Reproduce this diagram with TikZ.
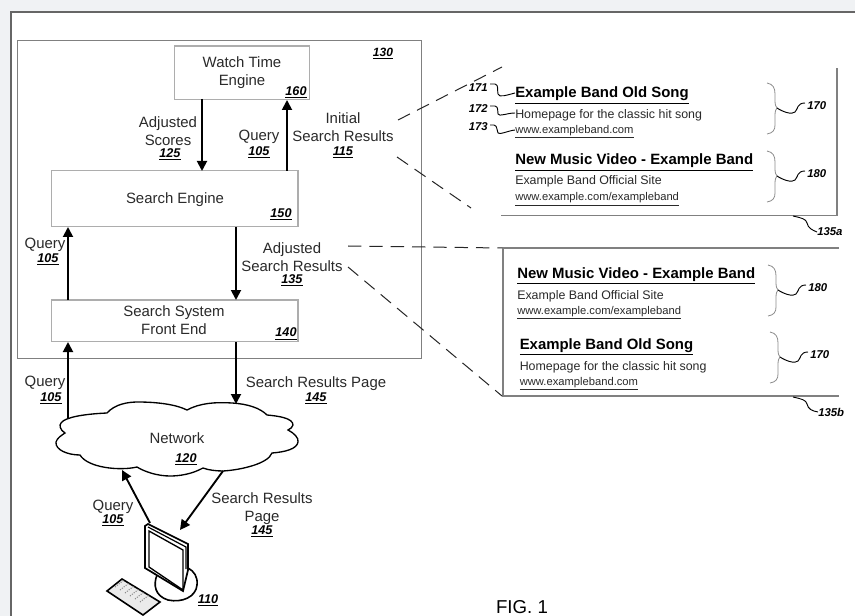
\documentclass[tikz,border=0pt]{standalone}
\usepackage{fontspec}
\setmainfont{Liberation Sans}
\usetikzlibrary{arrows.meta}
\definecolor{bgc}{HTML}{F0F2F4}
\definecolor{ink}{HTML}{2A2A2A}
\newcommand{\rf}[1]{\underline{\textbf{\textit{#1}}}}
% tip x, tip y, label
\newcommand{\bracemark}[3]{%
 \draw[bracecurve] (#1-10,#2-25) .. controls (#1-4,#2-24) and (#1-2,#2-20) .. (#1-2,#2-14) -- (#1-2,#2-7) .. controls (#1-2,#2-3) and (#1-1,#2-1) .. (#1,#2) .. controls (#1-1,#2+1) and (#1-2,#2+3) .. (#1-2,#2+7) -- (#1-2,#2+17) .. controls (#1-2,#2+22) and (#1-4,#2+25) .. (#1-10,#2+26);
 \draw[squig] (#1,#2) .. controls (#1+6,#2+4) and (#1+15,#2+7) .. (#1+18,#2+4) .. controls (#1+21,#2+1) and (#1+20,#2-5) .. (#1+28,#2-5);
 \node[refsm,anchor=west] at (#1+30,#2-2) {\textbf{\textit{#3}}};}
\tikzset{
  lbl/.style={font=\fontsize{11.2}{13.4}\selectfont,text=ink,align=center,inner sep=0pt},
  num/.style={font=\fontsize{9.5}{11}\selectfont,text=black,inner sep=0pt,yshift=-1.1pt},
  refsm/.style={font=\fontsize{8.5}{10}\selectfont,text=black,inner sep=0pt},
  enginebox/.style={draw=black!32,line width=0.9pt,fill=white},
  flow/.style={draw=black,line width=1.4pt,-{Triangle[length=7.5pt,width=7.5pt]}},
  dashlead/.style={draw=black!85,line width=0.75pt,dash pattern=on 10pt off 6pt},
  resbox/.style={draw=black!50,line width=0.8pt},
  restitle/.style={font=\fontsize{11.2}{13}\bfseries\selectfont,text=black,inner sep=0pt,anchor=base west},
  resbody/.style={font=\fontsize{9.3}{11}\selectfont,text=ink,inner sep=0pt,anchor=base west},
  resurl/.style={font=\fontsize{8.4}{10}\selectfont,text=ink,inner sep=0pt,anchor=base west},
  bracecurve/.style={draw=black!45,line width=0.6pt},
  squig/.style={draw=black,line width=0.7pt},
}
\begin{document}
\begin{tikzpicture}[x=0.75pt,y=-0.75pt]
\useasboundingbox (0,0) rectangle (855,616);
\fill[bgc] (0,0) rectangle (855,616);
\fill[white] (11,12) rectangle (855,616);
\draw[black!60,line width=1.1pt] (855,12) -- (11,12) -- (11,616);
% system box
\draw[draw=black!50,line width=0.75pt] (17,41) rectangle (421.5,358);
\node[refsm,font=\fontsize{9}{10}\selectfont,yshift=-1.1pt] (n130) at (383,52) {\rf{130}};
\draw[enginebox] (174.5,46) rectangle (309.5,99.5);
\node[lbl] (wtl) at (242,73) {Watch Time\\Engine};
\node[num] (n160) at (296,91) {\rf{160}};
\draw[enginebox] (51.5,170.5) rectangle (298,226.5);
\node[lbl] (sel) at (175,200) {Search Engine};
\node[num] (n150) at (281,213) {\rf{150}};
\draw[enginebox] (51.5,300) rectangle (298,341.5);
\node[lbl] (fel) at (174,320) {Search System\\Front End};
\node[num] (n140) at (286,332.5) {\rf{140}};
% flows
\coordinate (a1) at (202,99); \coordinate (a2) at (202,171);
\draw[flow] (a1) -- (a2);
\coordinate (b1) at (287,171); \coordinate (b2) at (287,100);
\draw[flow] (b1) -- (b2);
\coordinate (c1) at (68,300); \coordinate (c2) at (68,227);
\draw[flow] (c1) -- (c2);
\coordinate (d1) at (236,227); \coordinate (d2) at (236,300);
\draw[flow] (d1) -- (d2);
\coordinate (e1) at (68,418); \coordinate (e2) at (68,342);
\draw[flow] (e1) -- (e2);
\coordinate (f1) at (236,342); \coordinate (f2) at (236,404);
\draw[flow] (f1) -- (f2);
% labels
\node[lbl] (l125) at (168,131) {Adjusted\\Scores};
\node[num] (n125) at (170,153) {\rf{125}};
\node[lbl] (lq1) at (259,137) {Query};
\node[num] (nq1) at (259,151) {\rf{105}};
\node[lbl] (l115) at (343,127) {Initial\\Search Results};
\node[num] (n115) at (343,151) {\rf{115}};
\node[lbl] (lq2) at (45,245) {Query};
\node[num] (nq2) at (48,258) {\rf{105}};
\node[lbl] (l135) at (292,257) {Adjusted\\Search Results};
\node[num] (n135) at (292,279) {\rf{135}};
\node[lbl] (lq3) at (45,383) {Query};
\node[num] (nq3) at (51,397) {\rf{105}};
\node[lbl] (l145) at (316,384) {Search Results Page};
\node[num] (n145) at (316,397) {\rf{145}};
% cloud
\draw[line width=1pt,fill=white] (107,413)
 .. controls (115,404) and (128,402) .. (138,402)
 .. controls (155,402) and (175,404) .. (187,410)
 .. controls (200,403) and (215,402) .. (232,403)
 .. controls (248,404) and (260,408) .. (267,415)
 .. controls (278,416) and (293,418) .. (293,425)
 .. controls (293,427) and (290,429) .. (288,430)
 .. controls (294,433) and (299,438) .. (298,442)
 .. controls (297,449) and (285,452) .. (272,453)
 .. controls (268,464) and (240,470) .. (223,471)
 .. controls (216,471) and (208,470) .. (203,468)
 .. controls (192,474) and (180,476) .. (170,476)
 .. controls (158,476) and (145,472) .. (137,467)
 .. controls (120,471) and (88,468) .. (80,455)
 .. controls (68,455) and (55,450) .. (56,442)
 .. controls (57,438) and (62,435) .. (65,433)
 .. controls (60,430) and (59,425) .. (61,423)
 .. controls (65,417) and (85,414) .. (107,413) -- cycle;
\node[lbl] (netl) at (177,438) {Network};
\node[num] (n120) at (186,458) {\rf{120}};
\coordinate (g1) at (150,523); \coordinate (g2) at (122,470);
\draw[flow] (g1) -- (g2);
\coordinate (h1) at (223,471); \coordinate (h2) at (180,530);
\draw[flow] (h1) -- (h2);
\node[lbl] (lq4) at (113,507) {Query};
\node[num] (nq4) at (113,519) {\rf{105}};
\node[lbl] (lsp) at (262,508.5) {Search Results\\Page};
\node[num] (nsp) at (262,530) {\rf{145}};
% monitor
\draw[line width=1.2pt,fill=white] (157,575) .. controls (153,585) and (155,596) .. (168,600) .. controls (182,603) and (196,597) .. (197,585) .. controls (198,577) and (194,571) .. (188,568) -- cycle;
\draw[line width=1.3pt,fill=white] (145,526) -- (148,524) -- (188,544) -- (188,570) -- (183,591) -- (145,568) -- cycle;
\draw[line width=0.9pt] (148,527) -- (186,547) -- (186,569);
\draw[line width=1pt] (149,531) -- (183,550) -- (183,590) -- (149,567) -- cycle;
\draw[line width=1.2pt,fill=black!8] (107,591) -- (122,579) -- (160,602) -- (143,615) -- cycle;
\foreach \i in {0,...,5}{\draw[black!45,densely dotted,line width=0.8pt] ({115+\i*5},{587+\i*3}) -- ({124+\i*5},{580+\i*3});}
\node[num] (n110) at (208,599) {\rf{110}};
\node[font=\fontsize{14}{16}\selectfont,inner sep=0pt] (fig) at (522,607) {FIG. 1};
% result panel a
\draw[resbox] (501,215.5) -- (837,215.5) -- (837,68);
\node[restitle] (t1) at (515,98) {\underline{Example Band Old Song}};
\node[resbody] (b1x) at (515,119) {Homepage for the classic hit song};
\node[resurl] (u1) at (515,133.5) {\underline{www.exampleband.com}};
\node[restitle] (t2) at (515,165) {\underline{New Music Video - Example Band}};
\node[resbody] (b2x) at (515,185) {Example Band Official Site};
\node[resurl] (u2) at (515,201) {\underline{www.example.com/exampleband}};
% result panel b
\draw[resbox] (839,248) -- (503,248) -- (503,396) -- (839,396);
\node[restitle] (t3) at (517,278) {\underline{New Music Video - Example Band}};
\node[resbody] (b3x) at (517,299) {Example Band Official Site};
\node[resurl] (u3) at (517,314) {\underline{www.example.com/exampleband}};
\node[restitle] (t4) at (519.5,349) {\underline{Example Band Old Song}};
\node[resbody] (b4x) at (519.5,370) {Homepage for the classic hit song};
\node[resurl] (u4) at (519.5,385) {\underline{www.exampleband.com}};
% braces
\bracemark{777}{108}{170}
\bracemark{777}{176}{180}
\bracemark{778}{290}{180}
\bracemark{780}{357}{170}
% leader squiggles
\node[refsm,anchor=east] (r171) at (488,88) {\textbf{\textit{171}}};
\node[refsm,anchor=east] (r172) at (488,109) {\textbf{\textit{172}}};
\node[refsm,anchor=east] (r173) at (488,127) {\textbf{\textit{173}}};
\draw[squig] (490,84) -- (495,84) .. controls (499,85) and (497,90) .. (498,94) .. controls (499,98) and (507,95) .. (515,93);
\draw[squig] (490,106) -- (495,106) .. controls (499,107) and (497,111) .. (498,114) .. controls (499,117) and (507,113) .. (515,113);
\draw[squig] (490,125) -- (494,125) .. controls (498,126) and (496,130) .. (498,133) .. controls (500,135) and (507,131) .. (515,130);
\node[refsm,anchor=west] (r135a) at (817,232) {\textbf{\textit{135a}}};
\draw[squig] (793,216) .. controls (802,218) and (806,219) .. (807,223) .. controls (808,228) and (812,230) .. (r135a.west);
\node[refsm,anchor=west] (r135b) at (818,412) {\textbf{\textit{135b}}};
\draw[squig] (793,397) .. controls (802,399) and (806,400) .. (807,404) .. controls (808,409) and (812,411) .. (r135b.west);
% dashed leaders
\coordinate (da) at (398,120); \coordinate (db) at (502,67);
\coordinate (dc) at (397,157); \coordinate (dd) at (471,208);
\coordinate (de) at (348,246); \coordinate (df) at (502,248);
\coordinate (dg) at (348,267); \coordinate (dh) at (502,396);
\draw[dashlead] (da) -- (db);
\draw[dashlead] (dc) -- (dd);
\draw[dashlead] (de) -- (df);
\draw[dashlead] (dg) -- (dh);
\end{tikzpicture}
\end{document}
